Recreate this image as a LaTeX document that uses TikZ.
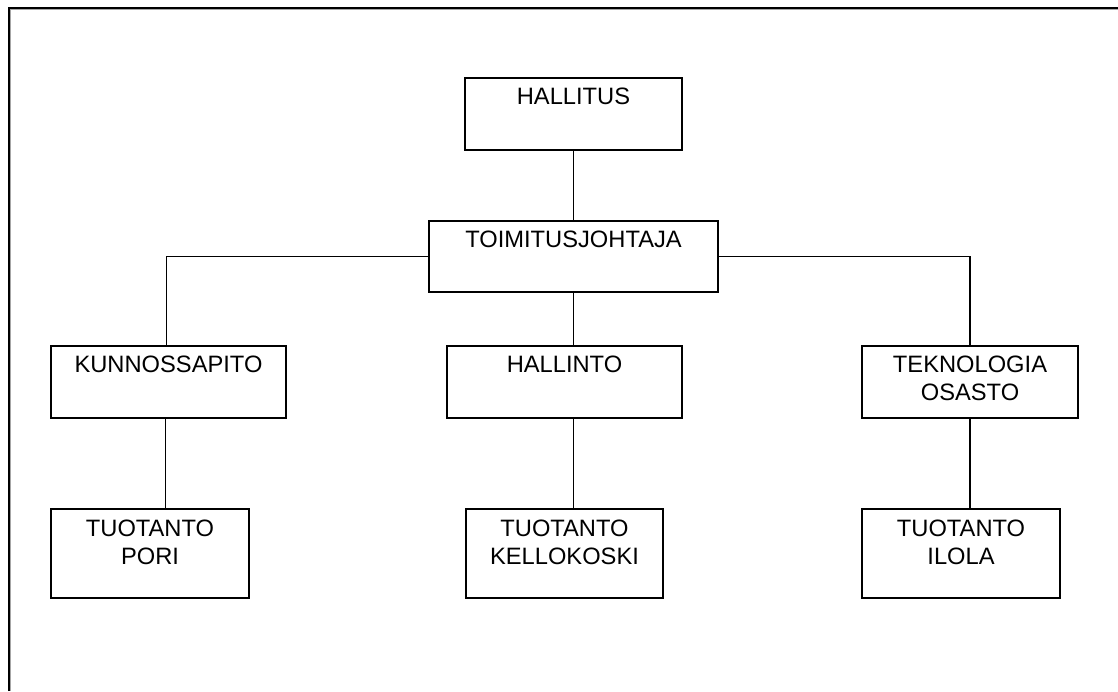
\documentclass[tikz,border=0pt]{standalone}
\usepackage{fontspec}
\setmainfont{Liberation Sans}
\usetikzlibrary{calc,positioning}

\tikzset{
	osasto/.style={draw, line width=1.8pt, inner sep=0pt, minimum height=72pt},
	alaosasto/.style={osasto, minimum height=89pt},
	teksti/.style={anchor=north, inner sep=0pt, align=center, font=\fontsize{23.7}{28}\selectfont},
	viiva/.style={line width=1.8pt}
}

\begin{document}
\begin{tikzpicture}[x=1pt,y=-1pt]
		\useasboundingbox (0,0) rectangle (1118,691);
		% kehys
		\draw[line width=2pt] (9,691) -- (9,8) -- (1118,8);
		\draw[black!35, line width=1pt] (10.5,691) -- (10.5,9.5) -- (1118,9.5);
		% laatikot
		\node[osasto, minimum width=217pt] (hallitus) at (573.5,114) {};
		\node[osasto, minimum width=289pt, minimum height=71pt] (toimitus) at (573.5,256.5) {};
		\node[osasto, minimum width=235pt] (kunnossa) at (168.5,382) {};
		\node[osasto, minimum width=235pt] (hallinto) at (564.5,382) {};
		\node[osasto, minimum width=216pt] (tekno) at (970,382) {};
		\node[alaosasto, minimum width=198pt] (pori) at (150,553.5) {};
		\node[alaosasto, minimum width=197pt] (kello) at (564.5,553.5) {};
		\node[alaosasto, minimum width=198pt] (ilola) at (961,553.5) {};
		% tekstit
		\node[teksti] (t-hallitus) at ($(hallitus.north)+(0,11)$) {HALLITUS};
		\node[teksti] (t-toimitus) at ($(toimitus.north)+(0,11)$) {TOIMITUSJOHTAJA};
		\node[teksti] (t-kunnossa) at ($(kunnossa.north)+(0,11)$) {KUNNOSSAPITO};
		\node[teksti] (t-hallinto) at ($(hallinto.north)+(0,11)$) {HALLINTO};
		\node[teksti] (t-tekno) at ($(tekno.north)+(0,11)$) {TEKNOLOGIA\\OSASTO};
		\node[teksti] (t-pori) at ($(pori.north)+(0,12)$) {TUOTANTO\\PORI};
		\node[teksti] (t-kello) at ($(kello.north)+(0,12)$) {TUOTANTO\\KELLOKOSKI};
		\node[teksti] (t-ilola) at ($(ilola.north)+(0,12)$) {TUOTANTO\\ILOLA};
		% viivat
		\draw[viiva] (hallitus) -- (toimitus);
		\draw[viiva] (toimitus.west) -| ($(kunnossa.north)+(-2,0)$);
		\draw[viiva] (toimitus.east) -| (tekno.north);
		\draw[viiva] (toimitus.south) -- (toimitus.south |- hallinto.north);
		\draw[viiva] ($(kunnossa.south)+(-3,0)$) -- ($(kunnossa.south |- pori.north)+(-3,0)$);
		\draw[viiva] (toimitus.south |- hallinto.south) -- (toimitus.south |- kello.north);
		\draw[viiva] (tekno.south) -- (tekno.south |- ilola.north);
\end{tikzpicture}
\end{document}
